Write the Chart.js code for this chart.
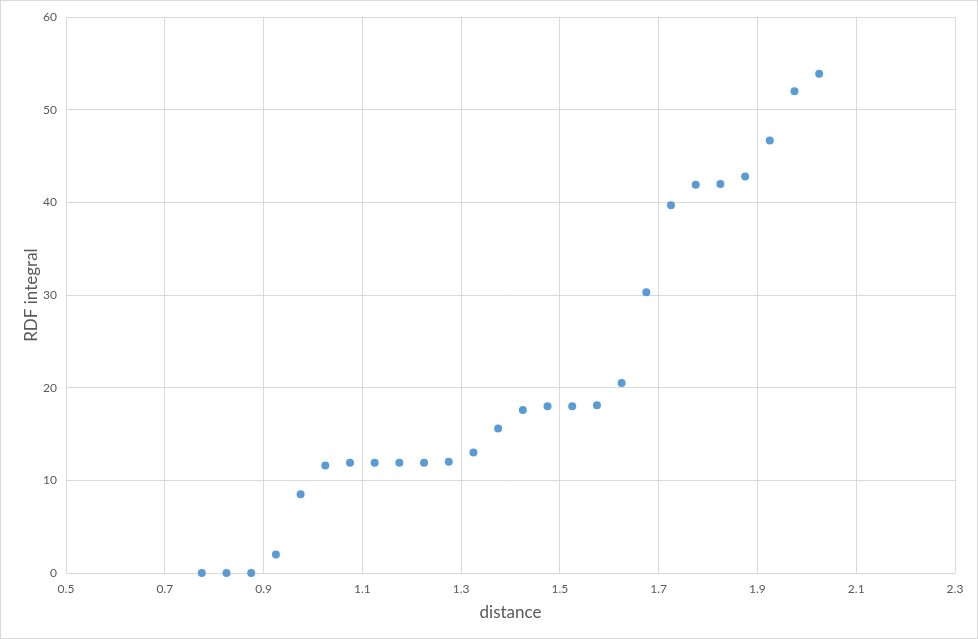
<!DOCTYPE html>
<html>
<head>
<meta charset="utf-8">
<script src="https://cdn.jsdelivr.net/npm/chart.js@4"></script>
<style>
  body { margin: 0; background: #fff; }
  #wrap { width: 978px; height: 639px; border: 1px solid #d9d9d9; box-sizing: border-box; }
</style>
</head>
<body>
<div id="wrap"><canvas id="rdf" width="976" height="637"></canvas></div>
<script>
// distance (x) and RDF integral (y)
const distance = [0.775, 0.825, 0.875, 0.925, 0.975, 1.025, 1.075, 1.125, 1.175, 1.225, 1.275, 1.325, 1.375,
  1.425, 1.475, 1.525, 1.575, 1.625, 1.675, 1.725, 1.775, 1.825, 1.875, 1.925, 1.975, 2.025];
const rdf_integral = [0, 0, 0, 2.0, 8.5, 11.6, 11.9, 11.9, 11.9, 11.9, 12.0, 13.0, 15.6,
  17.6, 18.0, 18.0, 18.1, 20.5, 30.3, 39.7, 41.9, 42.0, 42.8, 46.7, 52.0, 53.9];

const dataset_rdf = [];
distance.forEach((d, i) => {
  dataset_rdf.push({ x: d, y: rdf_integral[i] });
});

const ctx = document.getElementById("rdf");
new Chart(ctx, {
  type: "scatter",
  data: {
    datasets: [
      {
        label: "RDF integral",
        data: dataset_rdf,
        pointRadius: 4,
        pointHoverRadius: 4,
        borderWidth: 0,
        backgroundColor: "#5B9BD5",
        borderColor: "#5B9BD5",
        clip: false,
      },
    ],
  },
  options: {
    responsive: false,
    animation: false,
    layout: {
      padding: { left: 20, top: 13, right: 22, bottom: 15 },
    },
    scales: {
      x: {
        type: "linear",
        min: 0.5,
        max: 2.3,
        border: { display: false },
        grid: { color: "#d9d9d9", drawTicks: false },
        ticks: {
          stepSize: 0.2,
          color: "#595959",
          font: { family: "Lato", size: 12 },
          padding: 9,
          callback: function (val) {
            return val.toFixed(1);
          },
        },
        title: {
          display: true,
          text: "distance",
          color: "#595959",
          font: { family: "Lato", size: 17 },
          padding: 0,
        },
        afterFit: function (scale) {
          scale.height = 50;
        },
      },
      y: {
        min: 0,
        max: 60,
        border: { display: false },
        grid: { color: "#d9d9d9", drawTicks: false },
        ticks: {
          stepSize: 10,
          color: "#595959",
          font: { family: "Lato", size: 12 },
          padding: 9,
        },
        title: {
          display: true,
          text: "RDF integral",
          color: "#595959",
          font: { family: "Lato", size: 17 },
          padding: 0,
        },
        afterFit: function (scale) {
          scale.width = 45;
        },
      },
    },
    plugins: {
      legend: { display: false },
      tooltip: { enabled: false },
    },
  },
});
</script>
</body>
</html>
